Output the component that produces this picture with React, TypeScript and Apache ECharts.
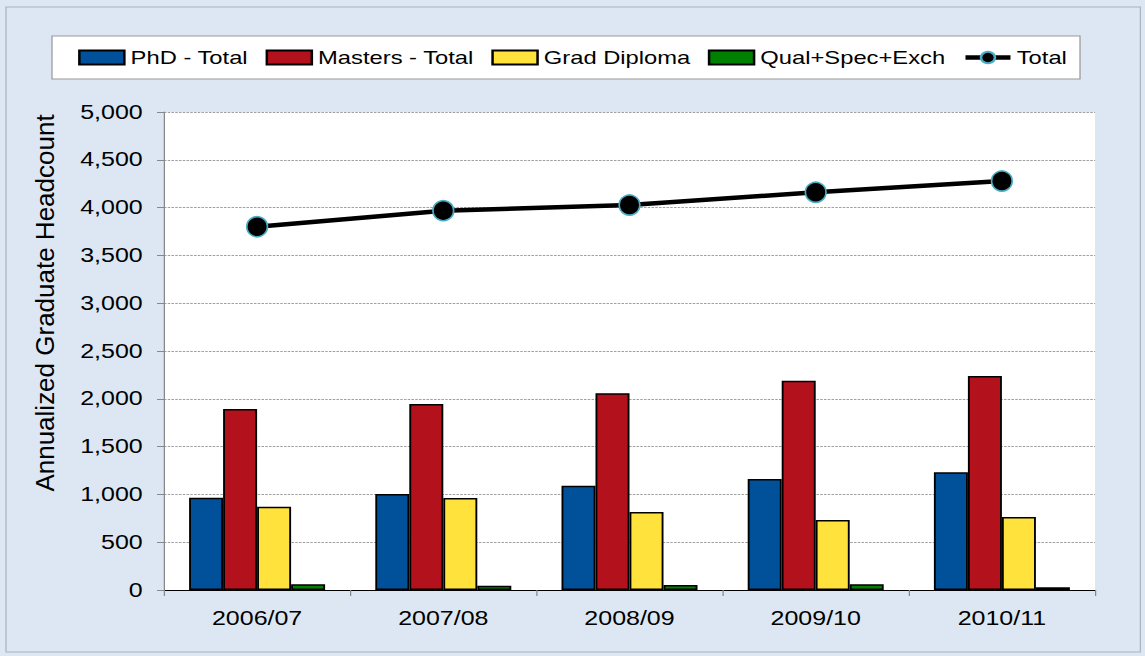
import React, { useEffect, useRef } from 'react';
import * as echarts from 'echarts';

const categories = ['2006/07', '2007/08', '2008/09', '2009/10', '2010/11'];
const phdTotal = [965, 1005, 1090, 1160, 1232];
const mastersTotal = [1892, 1946, 2058, 2190, 2238];
const gradDiploma = [872, 962, 817, 733, 764];
const qualSpecExch = [60, 45, 52, 60, 28];
const total = [3800, 3968, 4027, 4160, 4278];
const yTicks = { min: 0, max: 5000, interval: 500 };

const FONT = '"Liberation Sans", Arial, sans-serif';
const SX = 1.25; // original chart's text is horizontally stretched

export default function App() {
  const ref = useRef<HTMLDivElement>(null);
  useEffect(() => {
    const chart = echarts.init(ref.current!, undefined, { renderer: 'svg' });
    const barBase = (name: string, data: number[], color: string) => ({
      name,
      type: 'bar',
      data,
      barWidth: 27.2,
      barGap: '0%',
      itemStyle: { color, borderColor: '#000', borderWidth: 1.5 },
      z: 2,
    });
    chart.setOption({
      animation: false,
      backgroundColor: '#dde7f3',
      textStyle: { fontFamily: FONT },
      graphic: [
        {
          type: 'rect',
          shape: { x: 4.8, y: 7, width: 907.5, height: 645 },
          style: { fill: 'none', stroke: '#a9b3c2', lineWidth: 1 },
          silent: true,
          z: -10,
        },
        {
          type: 'rect',
          shape: { x: 41.6, y: 36, width: 822.4, height: 43 },
          style: { fill: '#ffffff', stroke: '#9a9a9a', lineWidth: 1 },
          silent: true,
          z: -5,
        },
        {
          type: 'text',
          x: 36,
          y: 303,
          rotation: Math.PI / 2,
          scaleX: 1.3,
          style: {
            text: 'Annualized Graduate Headcount',
            fontSize: 20,
            fontFamily: FONT,
            fill: '#000',
            align: 'center',
            verticalAlign: 'middle',
          },
        },
      ],
      legend: {
        top: 48,
        left: 'center',
        itemWidth: 36,
        itemHeight: 14,
        itemGap: 14,
        padding: 0,
        textStyle: { fontSize: 19, color: '#000', fontFamily: FONT },
        data: [
          { name: 'PhD - Total', icon: 'rect' },
          { name: 'Masters - Total', icon: 'rect' },
          { name: 'Grad Diploma', icon: 'rect' },
          { name: 'Qual+Spec+Exch', icon: 'rect' },
          { name: 'Total', lineStyle: { width: 4.5, color: '#000' } },
        ],
      },
      grid: {
        left: 131.2,
        right: 40,
        top: 112,
        bottom: 66,
        show: true,
        backgroundColor: '#ffffff',
        borderWidth: 0,
      },
      xAxis: {
        type: 'category',
        data: categories,
        boundaryGap: true,
        axisLine: { lineStyle: { color: '#000', width: 1 } },
        axisTick: { show: true, length: 6, lineStyle: { color: '#888' } },
        axisLabel: { fontSize: 20, color: '#000', margin: 18, fontFamily: FONT },
      },
      yAxis: {
        type: 'value',
        min: yTicks.min,
        max: yTicks.max,
        interval: yTicks.interval,
        axisLine: { show: true, lineStyle: { color: '#888', width: 1 } },
        axisTick: { show: true, length: 5.6, lineStyle: { color: '#888' } },
        axisLabel: {
          fontSize: 20,
          color: '#000',
          margin: 17,
          fontFamily: FONT,
          formatter: (v: number) => v.toLocaleString('en-US'),
        },
        splitLine: { show: true, lineStyle: { color: '#a0a0a0', width: 1, type: [2, 1] } },
      },
      series: [
        barBase('PhD - Total', phdTotal, '#005199'),
        barBase('Masters - Total', mastersTotal, '#b3121d'),
        barBase('Grad Diploma', gradDiploma, '#ffe23b'),
        barBase('Qual+Spec+Exch', qualSpecExch, '#008000'),
        {
          name: 'Total',
          type: 'line',
          data: total,
          symbol: 'circle',
          symbolSize: [16.5, 20],
          lineStyle: { color: '#000', width: 4.5 },
          itemStyle: { color: '#000', borderColor: '#4bacc6', borderWidth: 1.5 },
          z: 5,
        },
      ],
    });
    return () => chart.dispose();
  }, []);
  return (
    <div
      style={{
        position: 'fixed',
        left: 0,
        top: 0,
        width: 1145,
        height: 656,
        overflow: 'hidden',
        background: '#dde7f3',
      }}
    >
      <div
        ref={ref}
        style={{ width: 1145 / SX, height: 656, transform: `scaleX(${SX})`, transformOrigin: '0 0' }}
      />
    </div>
  );
}
